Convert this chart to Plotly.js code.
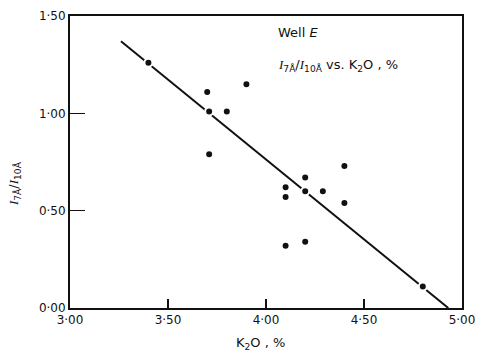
<!DOCTYPE html>
<html>
<head>
<meta charset="utf-8">
<script src="https://cdn.plot.ly/plotly-3.0.1.min.js"></script>
<style>html,body{margin:0;padding:0;background:#fff;}#chart{width:485px;height:352px;}</style>
</head>
<body>
<div id="chart"></div>
<script>
// Data
const k2o = [3.40, 3.70, 3.71, 3.80, 3.90, 3.71, 4.10, 4.10, 4.20, 4.20, 4.29, 4.40, 4.40, 4.10, 4.20, 4.80];
const ratio = [1.26, 1.11, 1.01, 1.01, 1.15, 0.79, 0.62, 0.57, 0.67, 0.60, 0.60, 0.73, 0.54, 0.32, 0.34, 0.11];
const fitX = [3.26, 4.93];
const fitY = [1.37, 0.0];
const xTickVals = [3.0, 3.5, 4.0, 4.5, 5.0];
const xTickText = ["3·00", "3·50", "4·00", "4·50", "5·00"];
const yTickVals = [0.0, 0.5, 1.0, 1.5];
const yTickText = ["0·00", "0·50", "1·00", "1·50"];

const font = {family: "DejaVu Sans, sans-serif", size: 12, color: "#111"};
const afont = {family: "DejaVu Sans, sans-serif", size: 13, color: "#111"};
const I = "<span style='font-family:Liberation Serif'><i>I</i></span>";

const traces = [
  {x: fitX, y: fitY, mode: "lines", line: {color: "#111", width: 2}, hoverinfo: "skip"},
  {x: k2o, y: ratio, mode: "markers",
   marker: {color: "#111", size: 8, line: {color: "#fff", width: 2}}}
];

const layout = {
  width: 485, height: 352,
  margin: {l: 70, r: 23, t: 16, b: 44},
  paper_bgcolor: "#fff", plot_bgcolor: "#fff",
  showlegend: false,
  font: font,
  xaxis: {range: [3.0, 5.0], tickvals: xTickVals, ticktext: xTickText,
    ticks: "inside", ticklen: 9, tickwidth: 1.5, tickcolor: "#111",
    showline: true, linecolor: "#111", linewidth: 2, mirror: true,
    showgrid: false, zeroline: false, fixedrange: true, tickfont: font},
  yaxis: {range: [0.0, 1.5], tickvals: yTickVals, ticktext: yTickText,
    ticks: "inside", ticklen: 15, tickwidth: 1.5, tickcolor: "#111",
    showline: true, linecolor: "#111", linewidth: 2, mirror: true,
    showgrid: false, zeroline: false, fixedrange: true, tickfont: font},
  annotations: [
    {xref: "paper", yref: "paper", x: 0.526, y: 0.942, xanchor: "left", yanchor: "middle",
     showarrow: false, text: "Well <i>E</i>", font: afont},
    {xref: "paper", yref: "paper", x: 0.526, y: 0.832, xanchor: "left", yanchor: "middle",
     showarrow: false,
     text: I + "<sub>7Å</sub>/" + I + "<sub>10Å</sub> vs. K<sub>2</sub>O , %",
     font: afont},
    {xref: "paper", yref: "paper", x: 0.485, y: -0.12, xanchor: "center", yanchor: "middle",
     showarrow: false, text: "K<sub>2</sub>O , %", font: afont},
    {xref: "paper", yref: "paper", x: -0.14, y: 0.425, xanchor: "center", yanchor: "middle",
     showarrow: false, textangle: -90,
     text: I + "<sub>7Å</sub>/" + I + "<sub>10Å</sub>",
     font: afont}
  ]
};

Plotly.newPlot("chart", traces, layout, {displayModeBar: false, staticPlot: true});
</script>
</body>
</html>
